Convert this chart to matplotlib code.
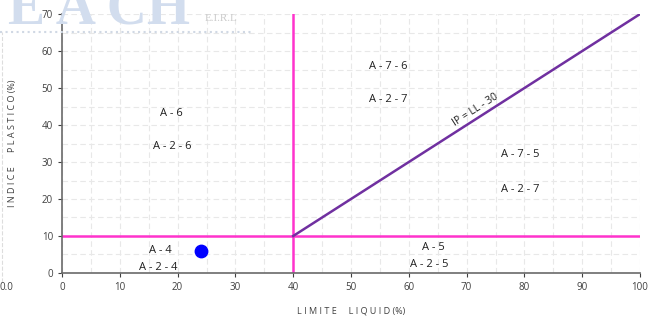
import matplotlib.pyplot as plt
import numpy as np

# data
point_ll = [24]
point_ip = [6]
line_ll = [40, 100]
line_ip = [10, 70]
zone_labels = ['A - 6', 'A - 2 - 6', 'A - 7 - 6', 'A - 2 - 7', 'A - 7 - 5',
               'A - 2 - 7', 'A - 5', 'A - 2 - 5', 'A - 4', 'A - 2 - 4']
zone_x = [19.0, 19.0, 56.4, 56.4, 79.2, 79.2, 64.2, 63.5, 17.1, 16.6]
zone_y = [43.0, 34.3, 55.7, 46.8, 31.9, 22.7, 6.8, 2.2, 6.2, 1.6]
xticks = np.arange(0, 101, 10)
yticks = np.arange(0, 71, 10)

plt.rcParams['font.family'] = ['Open Sans', 'DejaVu Sans']

fig = plt.figure(figsize=(6.55, 3.2), dpi=100)
ax = fig.add_axes([0.0947, 0.147, 0.8824, 0.809])

# watermark
fig.text(0.012, 0.925, 'E A CH', fontsize=40, family='Liberation Serif',
         color='#d2ddee', fontweight='bold', va='baseline', zorder=0)
fig.text(0.312, 0.935, 'E.I.R.L', fontsize=8, family='Liberation Serif',
         color='#cccccc', va='baseline', zorder=0)
fig.lines.append(plt.Line2D([0.0, 0.385], [0.9, 0.9], transform=fig.transFigure,
                            color='#d0d8e4', lw=1.5, ls=':'))
fig.lines.append(plt.Line2D([0.003, 0.003], [0.12, 0.9], transform=fig.transFigure,
                            color='#dddddd', lw=0.8, ls='--'))
fig.text(0.0, 0.095, '0.0', fontsize=7, color='#404040')

ax.set_xlim(0, 100)
ax.set_ylim(0, 70)
ax.set_xticks(xticks)
ax.set_yticks(yticks)
ax.set_xticks(np.arange(0, 101, 5), minor=True)
ax.set_yticks(np.arange(0, 71, 5), minor=True)
ax.grid(True, which='both', color='#e8e8e8', ls=(0, (5, 3)), lw=0.8)
ax.set_axisbelow(True)
ax.tick_params(which='minor', length=0)
ax.tick_params(which='major', labelsize=7, colors='#404040', length=3)
for s in ['top', 'right']:
    ax.spines[s].set_visible(False)
for s in ['left', 'bottom']:
    ax.spines[s].set_color('#6a6a6a')
    ax.spines[s].set_linewidth(1.2)

ax.axvline(40, color='#ff33cc', lw=1.8)
ax.axhline(10, color='#ff33cc', lw=1.8)
ax.plot(line_ll, line_ip, color='#7030a0', lw=1.8)
ax.scatter(point_ll, point_ip, s=80, color='#0000ff', zorder=5)

for t, x, y in zip(zone_labels, zone_x, zone_y):
    ax.text(x, y, t, fontsize=8, ha='center', va='center', color='#202020')

ax.text(71.6, 44.0, 'IP = LL - 30', fontsize=7.5, rotation=32.6, ha='center',
        va='center', rotation_mode='anchor', color='#202020')

ax.set_xlabel('L I M I T E     L I Q U I D (%)', fontsize=6.5, color='#404040', labelpad=10)
ax.set_ylabel('I N D I C E      P L A S T I C O (%)', fontsize=6.5, color='#404040', labelpad=18)

fig.savefig('out.png', dpi=100)
